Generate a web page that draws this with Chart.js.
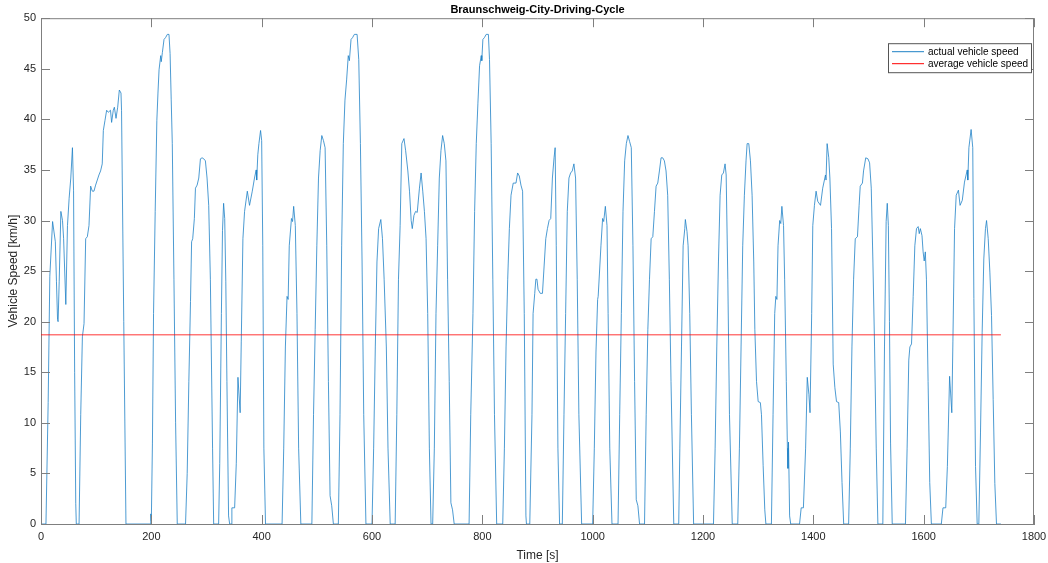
<!DOCTYPE html>
<html lang="en">
<head>
    <meta charset="UTF-8">
    <title>Braunschweig-City-Driving-Cycle</title>
    <script src="https://cdn.jsdelivr.net/npm/chart.js"></script>
    <style>
        body { margin: 0; background: #fff; }
    </style>
</head>
<body>
    <canvas id="cycleChart" width="1048" height="563"></canvas>

    <script>
        // Time stamps [s] and speeds [km/h], stop by stop
        const timeSec = [
            0, 9, 13, 16, 21, 26, 28, 30, 31, 33, 36, 39, 41, 45, 48, 51, 54, 57, 59, 61, 63, 64,
            69, 72, 75, 78, 81, 84, 87, 90, 93, 96, 99, 102, 105, 108, 111, 113, 116, 119, 122, 126, 128, 131, 133, 136, 139, 142, 145, 146, 150, 154,
            198, 199, 200, 202, 204, 207, 210, 212, 214, 217, 218, 220, 223, 226, 229, 232, 234, 236, 238, 241, 244, 247,
            262, 265, 268, 271, 273, 275, 278, 280, 283, 286, 289, 292, 295, 298, 301, 304, 307, 311, 313,
            322, 324, 327, 329, 331, 333, 335, 337, 340, 342,
            345, 346, 351, 354, 357, 361, 363, 366, 369, 374, 378, 383, 387, 390, 391, 393, 395, 398, 400, 402, 404, 407,
            437, 440, 443, 446, 448, 450, 454, 456, 458, 461, 464, 467, 471,
            491, 494, 497, 500, 503, 506, 509, 512, 515, 518, 521, 524, 527, 530,
            539, 542, 545, 548, 551, 554, 557, 559, 562, 565, 568, 573, 576, 579, 582, 585, 589,
            600, 603, 606, 609, 612, 616, 619, 622, 626, 629, 633,
            642, 645, 648, 651, 654, 658, 661, 665, 668, 671, 673, 676, 679, 682, 686, 689, 692, 695, 698, 701, 704, 707,
            710, 713, 716, 719, 722, 725, 728, 731, 734, 737, 740, 743, 746, 749,
            776, 779, 783, 786, 789, 792, 795, 798, 799, 801, 804, 807, 811, 813, 816, 819, 822, 826,
            837, 840, 843, 846, 849, 852, 856, 861, 864, 867, 870, 873, 876, 879, 880,
            886, 890, 892, 895, 897, 899, 901, 905, 909, 912, 915, 918, 921, 924, 927, 930, 932, 934, 937, 940,
            945, 948, 951, 954, 957, 960, 963, 966, 969, 972, 975, 980,
            1000, 1003, 1006, 1009, 1010, 1015, 1018, 1020, 1023, 1026, 1028, 1031, 1035,
            1046, 1049, 1052, 1055, 1058, 1061, 1064, 1067, 1070, 1073, 1076, 1079, 1082, 1085,
            1094, 1097, 1100, 1103, 1106, 1109, 1112, 1115, 1118, 1121, 1124, 1127, 1130, 1133, 1136, 1139, 1142, 1147,
            1156, 1158, 1161, 1164, 1167, 1168, 1171, 1173, 1176, 1179, 1183,
            1219, 1222, 1225, 1228, 1231, 1234, 1237, 1240, 1242, 1245, 1248, 1253,
            1263, 1266, 1269, 1272, 1275, 1278, 1280, 1283, 1286, 1289, 1292, 1294, 1297, 1300, 1304, 1306, 1309, 1312, 1314,
            1324, 1327, 1330, 1332, 1334, 1336, 1339, 1341, 1343, 1346, 1348, 1351, 1353, 1354, 1355, 1357, 1359,
            1375, 1378, 1382, 1386, 1389, 1392, 1394, 1397, 1399, 1402, 1405, 1408, 1413, 1417, 1422, 1423, 1425, 1428, 1430, 1433, 1436, 1439, 1442, 1446, 1449, 1452, 1455,
            1464, 1467, 1470, 1473, 1476, 1480, 1483, 1485, 1489, 1491, 1495, 1499, 1502, 1505, 1508, 1511, 1514, 1517,
            1526, 1529, 1532, 1534, 1536, 1538, 1540, 1543,
            1567, 1570, 1573, 1575, 1578, 1581, 1584, 1587, 1590, 1592, 1594, 1597, 1599, 1601, 1603, 1605, 1608, 1611, 1614,
            1632, 1635, 1640, 1643, 1647, 1651, 1653, 1656, 1659, 1663, 1666, 1670, 1674, 1679, 1680, 1682, 1686, 1689, 1691, 1694, 1697,
            1700, 1703, 1706, 1709, 1712, 1714, 1717, 1720, 1723, 1726, 1729, 1732, 1740
        ];

        const speedKmh = [
            0, 0, 12, 24.5, 29.9, 27.9, 24, 20.2, 20, 24, 30.9, 30, 28.2, 21.7, 29.5, 32.2, 34.2, 37.2, 33, 15, 2, 0,
            0, 10.8, 18.5, 19.8, 28.2, 28.4, 29.5, 33.4, 32.9, 32.9, 33.5, 34, 34.5, 34.9, 35.6, 38.9, 39.9, 40.9, 40.7, 40.9, 39.7, 40.9, 41.2, 40.1, 41.2, 42.9, 42.6, 40.9, 20, 0,
            0, 1, 0.3, 8, 20.8, 30.9, 39.9, 42.6, 44.9, 46.3, 45.7, 46.6, 47.9, 48.1, 48.4, 48.4, 46.5, 42, 37.6, 24.2, 10, 0,
            0, 5, 14.1, 22, 27.9, 28.2, 30.2, 33.2, 33.5, 34.2, 36.1, 36.2, 36.1, 35.9, 34.2, 31.5, 24.2, 7.5, 0,
            0, 6, 20.8, 29, 31.7, 30.2, 24, 14.1, 0.8, 0,
            0, 1.6, 1.6, 6, 14.5, 11, 18, 28.2, 30.9, 32.9, 31.5, 32.9, 34.2, 35, 34, 36.5, 37.6, 38.9, 37.9, 27.5, 7.5, 0,
            0, 7.5, 17.5, 22.5, 22.2, 27.5, 30.2, 29.9, 31.4, 29.5, 20.8, 7.5, 0,
            0, 10.8, 19.2, 27.5, 34.2, 36.9, 38.4, 37.9, 37.2, 27.5, 14.1, 2.8, 1.8, 0,
            0, 10.8, 27.5, 37.6, 41.9, 43.9, 46.3, 45.8, 47.9, 48.1, 48.4, 48.4, 45.9, 37.6, 25.9, 10.8, 0,
            0, 7.5, 17.5, 25.9, 29.2, 30.1, 28.2, 24.2, 17.5, 7.5, 0,
            0, 10.8, 24.2, 29.5, 37.6, 38.1, 36.9, 34.9, 32.9, 30, 29.2, 30.5, 30.9, 30.8, 33.2, 34.7, 32.9, 30.9, 28.2, 20.8, 7.5, 0,
            0, 7.5, 20.8, 27.5, 34.2, 36.9, 38.4, 37.6, 35.9, 24.2, 14.1, 2.1, 1.4, 0,
            0, 10.8, 20.8, 30.9, 37.6, 41.6, 45.3, 46.3, 45.8, 47.9, 48.1, 48.4, 48.4, 45.9, 37.6, 24.2, 10.8, 0,
            0, 7.5, 17.5, 24.2, 29.2, 32.5, 33.7, 33.7, 34.7, 34.4, 33.5, 32.9, 20.8, 0.8, 0,
            0, 10.8, 20.8, 22.8, 24.2, 24.2, 23.2, 22.8, 22.8, 25.5, 28.2, 29.2, 30, 30.2, 34.2, 36.2, 37.2, 27.5, 7.5, 0,
            0, 10.8, 20.8, 30.9, 34.2, 34.7, 34.9, 35.6, 34.2, 24.2, 10.8, 0,
            0, 7.5, 17, 22.2, 22.5, 27.5, 30.2, 29.9, 31.4, 29.5, 20.8, 7.5, 0,
            0, 10.8, 20.8, 30.9, 35.9, 37.6, 38.4, 37.8, 37.2, 27.5, 14.1, 2.4, 1.8, 0,
            0, 10.8, 19.2, 24.2, 28.2, 28.4, 30.9, 33.4, 33.7, 34.9, 36.2, 36.2, 35.9, 34.9, 32.5, 24.2, 14.1, 0,
            0, 7.5, 17.5, 27.5, 29.2, 30.1, 28.9, 27.5, 20.8, 10.8, 0,
            0, 7.5, 17.5, 25.9, 32.5, 34.5, 34.7, 35.6, 34.5, 24.2, 10.8, 0,
            0, 7.5, 17.5, 27.5, 32.5, 35.9, 37.6, 37.6, 35.9, 32.5, 25.9, 19.2, 14.1, 12.1, 12, 10.8, 5.8, 1.4, 0,
            0, 10.8, 20.8, 22.5, 22.2, 27.5, 30, 29.7, 31.4, 29.5, 24.2, 14.1, 7.5, 5.5, 8.1, 0.8, 0,
            0, 1.6, 1.6, 7.5, 14.5, 12.8, 11, 20.8, 29.5, 31.5, 32.9, 31.9, 31.5, 33.2, 34.5, 34, 37.6, 36.2, 34.2, 29.2, 15.8, 13.5, 12.1, 12, 9.1, 4.1, 0,
            0, 7.5, 17.5, 24.2, 28.2, 28.4, 31.5, 33.4, 33.7, 34.9, 36.2, 36.1, 35.7, 33.2, 25.9, 17.5, 7.5, 0,
            0, 17.5, 29.9, 31.7, 29.5, 20, 8, 0,
            0, 7.5, 16.2, 17.5, 17.8, 22.5, 27.5, 29.2, 29.4, 28.7, 29.2, 28.5, 26.9, 26, 26.9, 24.2, 14.1, 4.1, 0,
            0, 1.6, 1.6, 5.7, 14.6, 11, 18, 29.2, 32.5, 33, 31.5, 32, 33.8, 35, 34, 37.2, 39, 37.2, 22.3, 5.7, 0,
            0, 9, 18.9, 26.2, 29.2, 30, 28.2, 24.9, 20.6, 12.3, 4, 0, 0
        ];

        const avgSpeed = 18.7;      // km/h, red reference line
        const cycleEnd = 1740;      // s
        const xTickStep = 200;
        const yTickStep = 5;

        const axisGray = '#7f7f7f';
        const textGray = '#262626';
        const fontFam = '"Liberation Sans", Arial, Helvetica, sans-serif';

        // MATLAB-like box: top/right edges and inward tick marks
        const boxPlugin = {
            id: 'matlabBox',
            afterDatasetsDraw(chart) {
                const { ctx, chartArea: a, scales } = chart;
                const len = 9;
                ctx.save();
                ctx.strokeStyle = axisGray;
                ctx.lineWidth = 1;
                ctx.beginPath();
                ctx.moveTo(a.left, a.top + 0.5);
                ctx.lineTo(a.right, a.top + 0.5);
                ctx.moveTo(a.right - 0.5, a.top);
                ctx.lineTo(a.right - 0.5, a.bottom);
                scales.x.ticks.forEach(t => {
                    const px = Math.round(scales.x.getPixelForValue(t.value)) + 0.5;
                    ctx.moveTo(px, a.bottom);
                    ctx.lineTo(px, a.bottom - len);
                    ctx.moveTo(px, a.top);
                    ctx.lineTo(px, a.top + len);
                });
                scales.y.ticks.forEach(t => {
                    const py = Math.round(scales.y.getPixelForValue(t.value)) + 0.5;
                    ctx.moveTo(a.left, py);
                    ctx.lineTo(a.left + len, py);
                    ctx.moveTo(a.right, py);
                    ctx.lineTo(a.right - len, py);
                });
                ctx.stroke();
                ctx.restore();
            }
        };

        // legend box in the upper right corner of the axes
        const legendPlugin = {
            id: 'boxLegend',
            afterDraw(chart) {
                const { ctx, chartArea: a } = chart;
                const w = 143, h = 29;
                const x0 = a.right - 3 - w, y0 = a.top + 25;
                ctx.save();
                ctx.fillStyle = '#fff';
                ctx.fillRect(x0, y0, w, h);
                ctx.strokeStyle = '#555';
                ctx.lineWidth = 1;
                ctx.strokeRect(x0 + 0.5, y0 + 0.5, w, h);
                ctx.font = '10px ' + fontFam;
                ctx.textBaseline = 'middle';
                chart.data.datasets.forEach((ds, i) => {
                    const yy = y0 + 8.5 + i * 12;
                    ctx.strokeStyle = ds.borderColor;
                    ctx.lineWidth = 1;
                    ctx.beginPath();
                    ctx.moveTo(x0 + 4, yy);
                    ctx.lineTo(x0 + 36, yy);
                    ctx.stroke();
                    ctx.fillStyle = '#000';
                    ctx.fillText(ds.label, x0 + 40, yy + 0.5);
                });
                ctx.restore();
            }
        };

        const ctx = document.getElementById('cycleChart').getContext('2d');
        const cycleChart = new Chart(ctx, {
            type: 'line',
            data: {
                datasets: [{
                    label: 'actual vehicle speed',
                    data: timeSec.map((t, i) => ({ x: t, y: speedKmh[i] })),
                    borderColor: '#1f82c6',
                    borderWidth: 0.8,
                    pointRadius: 0,
                    tension: 0,
                    fill: false,
                    order: 2
                }, {
                    label: 'average vehicle speed',
                    data: [{ x: 0, y: avgSpeed }, { x: cycleEnd, y: avgSpeed }],
                    borderColor: '#FF0000',
                    borderWidth: 0.8,
                    pointRadius: 0,
                    fill: false,
                    order: 1
                }]
            },
            options: {
                responsive: false,
                animation: false,
                events: [],
                layout: { padding: { left: 0, right: 14, top: 0, bottom: 0 } },
                plugins: {
                    legend: { display: false },
                    tooltip: { enabled: false },
                    title: {
                        display: true,
                        fullSize: false,
                        text: 'Braunschweig-City-Driving-Cycle',
                        color: '#000',
                        font: { family: fontFam, size: 11, weight: 'bold', lineHeight: 1.2 },
                        padding: { top: 3, bottom: 2 }
                    }
                },
                scales: {
                    x: {
                        type: 'linear',
                        min: 0,
                        max: 1800,
                        afterFit: s => {
                            s.height = 39;
                            s.paddingLeft = 0;
                            s.paddingRight = 0;
                        },
                        ticks: {
                            stepSize: xTickStep,
                            color: textGray,
                            font: { family: fontFam, size: 11 },
                            padding: 6,
                            maxRotation: 0,
                            callback: v => String(v)
                        },
                        grid: { drawOnChartArea: false, drawTicks: false },
                        border: { display: true, color: axisGray },
                        title: {
                            display: true,
                            text: 'Time [s]',
                            color: textGray,
                            font: { family: fontFam, size: 12 },
                            padding: { top: 1, bottom: 0 }
                        }
                    },
                    y: {
                        min: 0,
                        max: 50,
                        afterFit: s => { s.width = 41; },
                        ticks: {
                            stepSize: yTickStep,
                            color: textGray,
                            font: { family: fontFam, size: 11 },
                            padding: 5,
                            callback: v => String(v)
                        },
                        grid: { drawOnChartArea: false, drawTicks: false },
                        border: { display: true, color: axisGray },
                        title: {
                            display: true,
                            text: 'Vehicle Speed [km/h]',
                            color: textGray,
                            font: { family: fontFam, size: 12 },
                            padding: { top: 6, bottom: 0 }
                        }
                    }
                }
            },
            plugins: [boxPlugin, legendPlugin]
        });
    </script>
</body>
</html>
